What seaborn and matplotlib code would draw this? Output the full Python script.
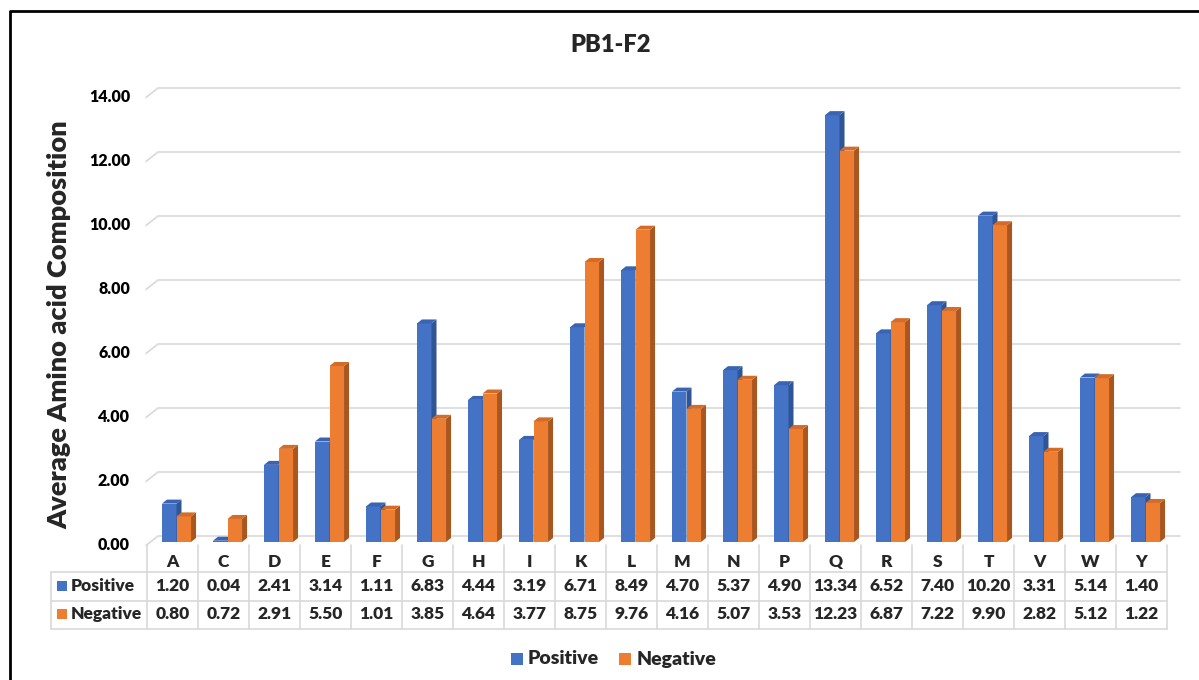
import numpy as np
import pandas as pd
import matplotlib
matplotlib.use("Agg")
import matplotlib.pyplot as plt
import seaborn as sns
from matplotlib.lines import Line2D
from matplotlib.patches import Polygon, Rectangle
from matplotlib.transforms import IdentityTransform

# ---------------- data ----------------
categories = ["A", "C", "D", "E", "F", "G", "H", "I", "K", "L",
              "M", "N", "P", "Q", "R", "S", "T", "V", "W", "Y"]
positive = [1.20, 0.04, 2.41, 3.14, 1.11, 6.83, 4.44, 3.19, 6.71, 8.49,
            4.70, 5.37, 4.90, 13.34, 6.52, 7.40, 10.20, 3.31, 5.14, 1.40]
negative = [0.80, 0.72, 2.91, 5.50, 1.01, 3.85, 4.64, 3.77, 8.75, 9.76,
            4.16, 5.07, 3.53, 12.23, 6.87, 7.22, 9.90, 2.82, 5.12, 1.22]
series = ["Positive", "Negative"]
yticks = [0, 2, 4, 6, 8, 10, 12, 14]
title = "PB1-F2"
ylabel = "Average Amino acid Composition"

# ---------------- style ----------------
FRONT = ["#4472C4", "#ED7D31"]
SIDE = ["#2F5597", "#A9561F"]
TOP = ["#3A64B2", "#D46C27"]
GRID = "#D9D9D9"
WEIGHT = "heavy"
TABLE_FS = 12.5

sns.set_theme(style="white")
plt.rcParams["font.family"] = ["Lato", "DejaVu Sans"]
plt.rcParams["font.weight"] = WEIGHT

W, H = 1199, 680
fig = plt.figure(figsize=(W / 100, H / 100), dpi=100)
fig.patch.set_facecolor("white")


def fx(x):
    return x / W


def fy(y):
    return 1 - y / H


ax = fig.add_axes([fx(147), fy(542), (1167 - 147) / W, 448 / H])
ax.patch.set_visible(False)

df = pd.DataFrame({
    "cat": categories * 2,
    "val": positive + negative,
    "series": [series[0]] * len(categories) + [series[1]] * len(categories),
})
sns.barplot(data=df, x="cat", y="val", hue="series", order=categories,
            hue_order=series, palette=FRONT, saturation=1, width=0.57,
            gap=0, errorbar=None, legend=False, linewidth=0, ax=ax)
ax.set_xlim(-0.5, len(categories) - 0.5)
ax.set_ylim(yticks[0], yticks[-1])
ax.axis("off")

I = IdentityTransform()


def disp(x, y):
    return ax.transData.transform((x, y))


# 3D faces on the bars
DX, DY = 5, 4
shift = 4 / 51.0
for i, cont in enumerate(ax.containers):
    z = 1 + 2 * i
    for p in cont:
        p.set_x(p.get_x() + shift)
        p.set_zorder(z)
        x0, y0 = disp(p.get_x(), p.get_y())
        x1, y1 = disp(p.get_x() + p.get_width(), p.get_y() + p.get_height())
        side = Polygon([(x1, y0), (x1 + DX, y0 + DY), (x1 + DX, y1 + DY), (x1, y1)],
                       closed=True, transform=I, facecolor=SIDE[i],
                       edgecolor="none", zorder=z + 0.5, clip_on=False)
        top = Polygon([(x0, y1), (x0 + DX, y1 + DY), (x1 + DX, y1 + DY), (x1, y1)],
                      closed=True, transform=I, facecolor=TOP[i],
                      edgecolor="none", zorder=z + 0.6, clip_on=False)
        ax.add_patch(side)
        ax.add_patch(top)

# gridlines on the back wall with the diagonal side wall edge
xl = disp(-0.5, 0)[0]
xr = disp(len(categories) - 0.5, 0)[0]
for v in yticks:
    yf = disp(0, v)[1]
    fig.add_artist(Line2D([xl - 1, xl + 11, xr + 13],
                          [yf - 3.5, yf + 6, yf + 6],
                          transform=I, color=GRID, lw=1.2, zorder=-1))
    fig.text(130, yf - 3, f"{v:.2f}", transform=I, ha="right", va="center",
             fontsize=11.5, fontweight=WEIGHT, color="black")

# data table
tw = 1.2
row_top, row_mid, row_bot = H - 572, H - 601, H - 629
floor_y = H - 545
for k in range(len(categories) + 1):
    xk = disp(k - 0.5, 0)[0]
    fig.add_artist(Line2D([xk, xk], [floor_y, row_bot], transform=I,
                          color=GRID, lw=tw, zorder=-1))
for yy in (row_top, row_mid, row_bot):
    fig.add_artist(Line2D([51, xr], [yy, yy], transform=I, color=GRID,
                          lw=tw, zorder=-1))
fig.add_artist(Line2D([51, 51], [row_top, row_bot], transform=I, color=GRID,
                      lw=tw, zorder=-1))

for k, c in enumerate(categories):
    xc = disp(k, 0)[0]
    fig.text(xc, H - 562, c, transform=I, ha="center", va="center",
             fontsize=TABLE_FS, fontweight=WEIGHT)
    fig.text(xc, H - 586, f"{positive[k]:.2f}", transform=I, ha="center",
             va="center", fontsize=TABLE_FS, fontweight=WEIGHT)
    fig.text(xc, H - 614, f"{negative[k]:.2f}", transform=I, ha="center",
             va="center", fontsize=TABLE_FS, fontweight=WEIGHT)

for i, (name, yy) in enumerate(zip(series, (H - 586, H - 614))):
    fig.add_artist(Rectangle((57, yy - 5), 10, 10, transform=I,
                             facecolor=FRONT[i], edgecolor="none"))
    fig.text(71, yy, name, transform=I, ha="left", va="center",
             fontsize=TABLE_FS, fontweight=WEIGHT)

# legend
legend_items = [(511, 528, series[0]), (619, 637, series[1])]
for i, (mx, tx, name) in enumerate(legend_items):
    fig.add_artist(Rectangle((mx, H - 665), 12, 12, transform=I,
                             facecolor=FRONT[i], edgecolor="none"))
    fig.text(tx, H - 659, name, transform=I, ha="left", va="center",
             fontsize=14, fontweight=WEIGHT)

# titles
fig.text(fx(611), fy(45), title, ha="center", va="center", fontsize=17,
         fontweight=WEIGHT)
fig.text(fx(59), fy(325), ylabel, ha="center", va="center", rotation=90,
         fontsize=19.5, fontweight=WEIGHT)

# outer frame (left and top edges)
fig.add_artist(Line2D([9.7, 9.7, W], [0, H - 10.7, H - 10.7], transform=I,
                      color="black", lw=2.0))

fig.savefig("out.png", dpi=100, facecolor="white")
